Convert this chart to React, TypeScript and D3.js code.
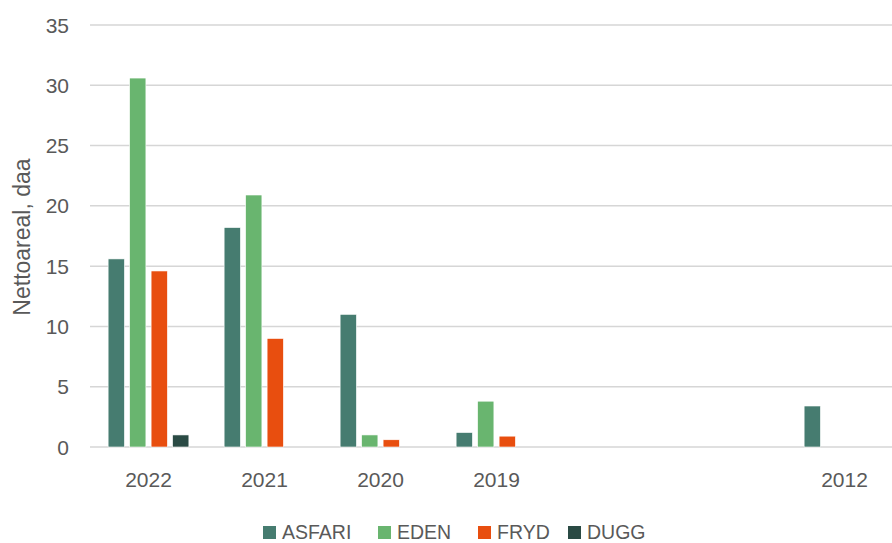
import React from "react";
import * as d3 from "d3";

const categories = ["2022", "2021", "2020", "2019", "blank1", "blank2", "2012"];
const xLabels = ["2022", "2021", "2020", "2019", "", "", "2012"];
const seriesNames = ["ASFARI", "EDEN", "FRYD", "DUGG"];
const asfari = [15.6, 18.2, 11.0, 1.2, null, null, 3.4];
const eden = [30.6, 20.9, 1.0, 3.8, null, null, null];
const fryd = [14.6, 9.0, 0.6, 0.9, null, null, null];
const dugg = [1.0, null, null, null, null, null, null];
const yTicks = [0, 5, 10, 15, 20, 25, 30, 35];
const colors = ["#467c70", "#69b56f", "#e84e0f", "#2a4a44"];

const W = 892;
const H = 543;
const FONT = "'Liberation Sans', Arial, sans-serif";
const TEXT = "#595959";

export default function App() {
  const seriesValues = [asfari, eden, fryd, dugg];
  const x = d3.scaleBand<string>().domain(categories).range([90.5, 902.5]).paddingInner(0).paddingOuter(0);
  const xi = d3
    .scaleBand<string>()
    .domain(seriesNames)
    .range([0, x.bandwidth()])
    .paddingInner(0.242)
    .paddingOuter(0.82);
  const y = d3.scaleLinear().domain([0, 35]).range([447, 25]);

  const legendItems = [
    { name: "ASFARI", x: 263 },
    { name: "EDEN", x: 378 },
    { name: "FRYD", x: 478 },
    { name: "DUGG", x: 568 },
  ];

  return (
    <svg
      width={W}
      height={H}
      style={{ position: "absolute", left: 0, top: 0, background: "#fff" }}
      fontFamily={FONT}
    >
      <rect x={0} y={0} width={W} height={H} fill="#fff" />
      {yTicks.map((t) => (
        <g key={t}>
          <line x1={90} x2={W} y1={y(t)} y2={y(t)} stroke="#d6d6d6" strokeWidth={1.5} />
          <text x={69} y={y(t)} dy="0.36em" textAnchor="end" fontSize={21} fill={TEXT}>
            {t}
          </text>
        </g>
      ))}
      {seriesValues.map((vals, si) =>
        vals.map((v, ci) =>
          v == null ? null : (
            <rect
              key={`${si}-${ci}`}
              x={(x(categories[ci]) as number) + (xi(seriesNames[si]) as number)}
              y={y(v)}
              width={xi.bandwidth()}
              height={y(0) - y(v)}
              fill={colors[si]}
              stroke="#ffffff"
              strokeWidth={0.6}
            />
          )
        )
      )}
      {categories.map((c, i) => (
        <text
          key={c}
          x={(x(c) as number) + x.bandwidth() / 2}
          y={487}
          textAnchor="middle"
          fontSize={21}
          fill={TEXT}
        >
          {xLabels[i]}
        </text>
      ))}
      <text
        transform={`translate(30, 237) rotate(-90)`}
        textAnchor="middle"
        fontSize={23}
        fill={TEXT}
      >
        Nettoareal, daa
      </text>
      {legendItems.map((it, i) => (
        <g key={it.name}>
          <rect x={it.x} y={526} width={13} height={13} fill={colors[i]} />
          <text x={it.x + 19} y={539} fontSize={19.5} fill={TEXT}>
            {it.name}
          </text>
        </g>
      ))}
    </svg>
  );
}
